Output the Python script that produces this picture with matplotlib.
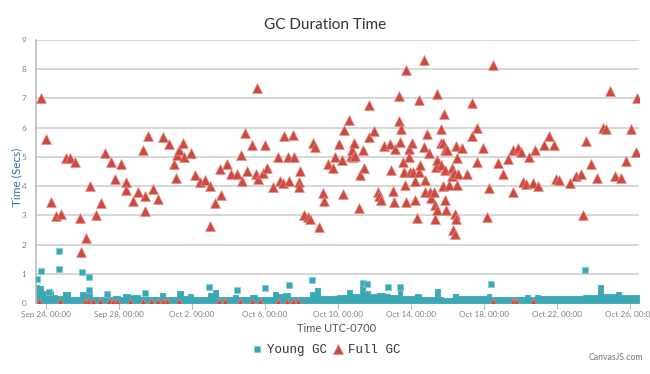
import numpy as np
import matplotlib
matplotlib.use("Agg")
import matplotlib.pyplot as plt
import matplotlib.dates as mdates
from matplotlib.lines import Line2D
import datetime as dt

# ---------------- data ----------------
base_date = dt.datetime(2015, 9, 24)   # Sep 24, 00:00 (UTC-0700)

tick_days = [0, 4, 8, 12, 16, 20, 24, 28, 32]
tick_labels = ["Sep 24, 00:00", "Sep 28, 00:00", "Oct 2, 00:00", "Oct 6, 00:00",
               "Oct 10, 00:00", "Oct 14, 00:00", "Oct 18, 00:00", "Oct 22, 00:00",
               "Oct 26, 00:00"]
y_ticks = [0, 1, 2, 3, 4, 5, 6, 7, 8, 9]

# Full GC: day offset from Sep 24 00:00, duration (s)
full_days = [
    -0.29, 0.00, 0.26, 0.55, 0.82, 1.08, 1.33, 1.61, 1.86, 1.90, 2.17, 2.43, 2.72, 3.00,
    3.25, 3.54, 3.80, 4.09, 4.37, 4.38, 4.79, 5.06, 5.33, 5.41, 5.44, 5.61, 5.88, 6.15,
    6.43, 6.76, 7.01, 7.10, 7.16, 7.31, 7.49, 7.58, 7.93, 8.16, 8.44, 8.71, 8.99, 8.99,
    9.26, 9.53, 9.59, 9.90, 10.14, 10.45, 10.67, 10.72, 10.90, 11.01, 11.29, 11.55, 11.49,
    11.60, 11.87, 12.02, 12.09, 12.46, 12.73, 12.82, 13.04, 13.00, 13.28, 13.33, 13.55,
    13.59, 13.86, 13.88, 13.95, 14.14, 14.37, 14.47, 14.65, 14.74, 14.96, 15.20, 15.25,
    15.47, 15.74, 15.87, 16.05, 16.20, 16.29, 16.33, 16.59, 16.70, 16.79, 16.84, 16.90,
    16.93, 17.17, 17.24, 17.39, 17.44, 17.72, 17.70, 18.00, 18.22, 18.28, 18.36, 18.52,
    18.85, 18.90, 19.00, 19.07, 19.12, 19.36, 19.36, 19.40, 19.45, 19.58, 19.63, 19.67,
    19.73, 19.76, 19.91, 19.91, 19.95, 20.09, 20.13, 20.22, 20.22, 20.35, 20.44, 20.46,
    20.53, 20.71, 20.73, 20.78, 20.78, 20.91, 20.99, 21.04, 21.10, 21.28, 21.32, 21.32,
    21.37, 21.44, 21.46, 21.46, 21.63, 21.64, 21.68, 21.74, 21.77, 21.83, 21.86, 21.86,
    21.90, 21.95, 22.01, 22.08, 22.26, 22.28, 22.32, 22.36, 22.41, 22.43, 22.47, 22.50,
    22.54, 22.54, 22.56, 22.83, 23.10, 23.33, 23.38, 23.65, 23.65, 23.93, 24.20, 24.29,
    24.51, 24.78, 25.06, 25.33, 25.61, 25.61, 25.88, 26.06, 26.15, 26.34, 26.47, 26.70,
    26.83, 26.98, 27.29, 27.55, 27.84, 27.98, 28.11, 28.71, 29.04, 29.32, 29.44, 29.63,
    29.90, 30.23, 30.54, 30.68, 30.90, 31.18, 31.51, 31.78, 32.09, 32.37, 32.42,
]
full_vals = [
    7.01, 5.60, 3.47, 2.98, 3.04, 4.95, 4.95, 4.81, 2.90, 1.74, 2.24, 4.01, 3.01, 3.41,
    5.13, 4.82, 4.24, 4.76, 4.13, 3.87, 3.50, 3.81, 5.24, 3.16, 3.67, 5.70, 3.89, 3.56,
    5.67, 5.43, 4.75, 4.27, 5.07, 5.22, 5.47, 5.01, 5.15, 4.38, 4.15, 4.21, 4.01, 2.65,
    3.41, 4.58, 3.70, 4.76, 4.41, 4.41, 5.07, 4.18, 5.81, 4.52, 5.39, 7.35, 4.41,
    4.24, 4.46, 5.41, 4.61, 3.96, 5.01, 4.18, 5.70, 4.12, 4.98, 4.18, 5.75,
    4.98, 4.15, 3.98, 4.52, 3.01, 2.96, 2.87, 5.49, 5.35, 2.61, 3.76, 3.50,
    4.75, 4.63, 4.98, 5.43, 4.90, 3.73, 5.92, 6.27, 5.03, 5.24, 4.98, 5.47,
    5.03, 3.26, 4.38, 5.22, 4.63, 5.67, 6.78, 5.90, 3.79, 3.67, 3.53, 5.38,
    5.43, 4.55, 3.84, 3.45, 5.27, 7.10, 6.23, 5.52, 5.96, 4.82, 4.48, 4.04,
    7.96, 3.45, 5.27, 4.99, 4.50, 5.47, 4.50, 4.19, 3.53, 2.90, 4.50, 6.93,
    4.73, 8.32, 5.35, 4.21, 3.81, 5.78, 5.13, 3.81, 3.59, 3.81, 2.87, 3.36,
    4.67, 4.90, 7.16, 3.18, 5.47, 5.95, 4.73, 4.01, 5.47, 6.46, 5.24, 4.55,
    3.53, 3.18, 5.24, 4.04, 4.61, 4.33, 2.50, 4.44, 3.04, 2.36, 5.38, 2.88,
    4.95, 4.04, 4.41, 5.32, 4.41, 5.70, 6.86, 6.00, 4.82, 5.32, 2.96, 3.93,
    8.15, 4.78, 4.41, 4.93, 3.79, 5.22, 5.32, 5.16, 4.15, 4.08, 4.98, 4.10,
    5.22, 4.01, 5.41, 5.70, 5.41, 4.24, 4.21, 4.12, 4.36, 4.41, 3.01, 5.55,
    4.76, 4.29, 5.98, 5.96, 7.27, 4.36, 4.27, 4.87, 5.95, 5.18, 7.01,
]
# Full GC events that took ~0 s
full_zero_days = [-0.37, 0.77, 2.14, 2.32, 2.56, 2.96, 3.47, 3.69, 3.91, 4.60, 5.30, 5.74,
                  6.15, 6.43, 6.61, 7.30, 9.48, 9.81, 10.63, 11.30, 11.73, 12.73, 13.19,
                  13.52, 13.79, 24.49, 25.62, 25.79, 26.70]

# Young GC: dense low-level series (step levels) ...
young_step_days = [
    -0.55, -0.37, -0.15, 0.04, 0.40, 0.58, 0.95, 1.32, 1.86, 2.23, 2.50, 3.23, 3.51, 3.69,
    4.05, 4.24, 4.60, 5.15, 5.52, 6.25, 6.52, 7.16, 7.52, 7.80, 8.07, 8.89, 9.17, 9.44,
    10.26, 10.54, 11.18, 11.55, 12.46, 12.73, 13.00, 13.37, 14.47, 14.74, 15.01, 15.93,
    16.48, 16.75, 17.21, 17.48, 17.75, 18.12, 18.58, 18.85, 19.30, 19.49, 20.22, 20.58,
    21.32, 21.59, 21.77, 22.32, 22.59, 24.15, 24.42, 26.25, 26.52, 26.79, 27.07, 29.44,
    29.63, 30.26, 30.54, 31.27, 31.55, 32.27, 32.51,
]
young_step_vals = [
    0.62, 0.59, 0.40, 0.42, 0.28, 0.24, 0.36, 0.22, 0.39, 0.36, 0.22, 0.33, 0.22, 0.25,
    0.22, 0.31, 0.29, 0.20, 0.22, 0.33, 0.22, 0.42, 0.24, 0.30, 0.22, 0.33, 0.45, 0.22,
    0.28, 0.22, 0.29, 0.22, 0.36, 0.31, 0.33, 0.22, 0.39, 0.50, 0.24, 0.26,
    0.45, 0.31, 0.74, 0.42, 0.31, 0.33, 0.31, 0.26, 0.45, 0.24, 0.31, 0.22,
    0.47, 0.22, 0.16, 0.31, 0.24, 0.31, 0.22, 0.28, 0.22, 0.28, 0.24, 0.26,
    0.26, 0.62, 0.31, 0.39, 0.26, 0.29, 0.29,
]
# ... and the isolated longer Young GC pauses
young_days = [-0.51, -0.29, 0.18, 0.70, 0.70, 1.97, 2.37, 2.37, 3.33, 5.42, 8.95, 10.45,
              12.00, 13.33, 14.56, 17.39, 17.62, 18.76, 19.40, 24.37, 29.57]
young_vals = [0.81, 1.11, 0.39, 1.79, 1.15, 1.05, 0.88, 0.45, 0.30, 0.35, 0.54, 0.45,
              0.50, 0.62, 0.79, 0.67, 0.64, 0.54, 0.54, 0.65, 1.13]

# ---------------- style ----------------
TEAL = "#3aa8b5"
TEAL_EDGE = "#7cc9d2"
RED = "#cc4a3f"
RED_EDGE = "#e58a80"
GRID = "#d0d0d0"
TICK = "#808080"

base = mdates.date2num(base_date)
def tx(days):
    return base + np.asarray(days, dtype=float)

fig = plt.figure(figsize=(6.5, 3.74), dpi=100)
fig.patch.set_facecolor("white")
ax = fig.add_axes([36 / 650, 1 - 303 / 374, (639 - 36) / 650, (303 - 40) / 374])

ax.set_xlim(tx(-0.55), tx(32.51))
ax.set_ylim(0, 9)

for y in y_ticks[1:]:
    ax.axhline(y, color=GRID, lw=1.2, zorder=0)

# young GC area (step)
ax.fill_between(tx(young_step_days), young_step_vals, 0, step="post",
                facecolor=TEAL, edgecolor=TEAL, lw=0.6, zorder=2)
ax.scatter(tx(young_days), young_vals, marker="s", s=22, color=TEAL,
           edgecolors=TEAL_EDGE, linewidths=0.5, zorder=3)

# full GC
ax.scatter(tx(full_days), full_vals, marker="^", s=50, color=RED,
           edgecolors=RED_EDGE, linewidths=0.5, zorder=4)
ax.scatter(tx(full_zero_days), np.zeros(len(full_zero_days)), marker="^", s=50,
           color=RED, edgecolors=RED_EDGE, linewidths=0.5, zorder=4)

for s in ["top", "right", "bottom"]:
    ax.spines[s].set_visible(False)
ax.spines["left"].set_color("#bbbbbb")
ax.spines["left"].set_linewidth(1.2)
ax.axhline(0, color="#bbbbbb", lw=1.2, zorder=1)

ax.set_xticks(tx(tick_days))
ax.set_xticklabels(tick_labels)
ax.set_yticks(y_ticks)
ax.set_yticklabels([str(v) for v in y_ticks])
ax.tick_params(axis="x", length=4, width=0.8, color="#bbbbbb", pad=2,
               labelsize=5.9, labelcolor=TICK)
ax.tick_params(axis="y", length=0, pad=7, labelsize=5.9, labelcolor=TICK)
for lab in ax.get_xticklabels() + ax.get_yticklabels():
    lab.set_family("Lato")

fig.text(0.5, 1 - 25 / 374, "GC Duration Time", ha="center", va="center",
         fontsize=11, color="#333333", family="Lato")
fig.text(17 / 650, 1 - 177 / 374, "Time (Secs)", rotation=90, ha="center",
         va="center", fontsize=8.5, color="#3a6ea8", family="Lato")
fig.text(337 / 650, 1 - 328 / 374, "Time UTC-0700", ha="center", va="center",
         fontsize=8, color="#555555", family="Lato")
fig.text(643 / 650, 1 - 358 / 374, "CanvasJS.com", ha="right", va="center",
         fontsize=6.3, color="#777777", family="Lato")

handles = [
    Line2D([], [], marker="s", ls="none", ms=5, color=TEAL, mec=TEAL_EDGE, mew=0.5),
    Line2D([], [], marker="^", ls="none", ms=6.5, color=RED, mec=RED_EDGE, mew=0.5),
]
leg = fig.legend(handles, ["Young GC", "Full GC"], loc="center",
                 bbox_to_anchor=(326 / 650, 1 - 350 / 374), ncol=2, frameon=False,
                 prop={"family": "Liberation Mono", "size": 9},
                 handlelength=0.8, handletextpad=0.4, columnspacing=0.5)
for t in leg.get_texts():
    t.set_color("#333333")

fig.savefig("out.png", dpi=100)
